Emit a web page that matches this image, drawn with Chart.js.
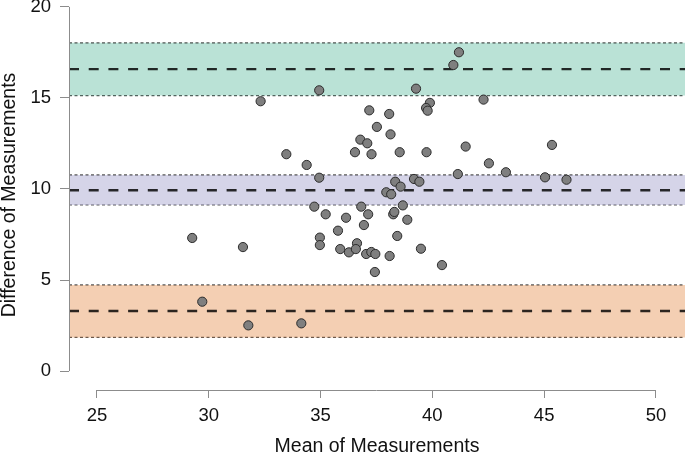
<!DOCTYPE html>
<html>
<head>
<meta charset="utf-8">
<script src="https://cdn.jsdelivr.net/npm/chart.js@4/dist/chart.umd.min.js"></script>
<style>
  html, body { margin: 0; padding: 0; background: #fff; }
  #wrap { width: 685px; height: 457px; }
</style>
</head>
<body>
<div id="wrap"><canvas id="chart"></canvas></div>
<script>
// mean of the two measurements (x) and their difference (y)
var meanVals = [34.94, 39.27, 32.32, 37.18, 38.07, 37.52, 38.13, 36.78, 37.09, 36.54,
                37.28, 38.54, 33.47, 34.38, 34.94, 38.34, 38.58, 37.94, 38.16, 39.18,
                39.42, 41.19, 40.94, 39.89, 39.72, 39.79, 42.29, 41.49, 45.35, 39.74,
                42.53, 41.14, 43.29, 45.04, 46.00, 29.26, 31.53, 29.71, 31.77, 34.14,
                34.72, 35.23, 36.14, 36.82, 37.13, 36.94, 35.78, 34.97, 34.97, 35.88,
                36.27, 36.63, 36.58, 37.04, 37.27, 37.45, 38.09, 37.43, 38.43, 39.49,
                40.43, 38.25, 38.30, 38.68, 38.88];
var diffVals = [15.42, 15.51, 14.82, 14.32, 14.12, 13.41, 13.00, 12.71, 12.51, 12.02,
                11.91, 12.02, 11.91, 11.32, 10.62, 10.40, 10.13, 9.82, 9.71, 10.55,
                10.40, 17.51, 16.81, 14.73, 14.45, 14.30, 14.91, 12.33, 12.42, 12.02,
                11.41, 10.82, 10.92, 10.64, 10.51, 7.31, 6.81, 3.81, 2.51, 2.62,
                9.03, 8.61, 8.42, 9.03, 8.61, 8.02, 7.71, 7.33, 6.92, 6.70,
                6.52, 7.02, 6.70, 6.43, 6.54, 6.43, 6.32, 5.44, 7.42, 6.72,
                5.82, 8.61, 8.74, 9.10, 8.31];

// upper limit of agreement, bias, lower limit of agreement (mean line + CI band each)
var bandNames = ['upper', 'bias', 'lower'];
var bandMid   = [16.58, 9.93, 3.30];
var bandHigh  = [18.03, 10.77, 4.73];
var bandLow   = [15.13, 9.12, 1.85];
var bandFill  = ['rgba(27,158,119,0.3)', 'rgba(117,112,179,0.3)', 'rgba(217,95,2,0.3)'];

var xTicks = [25, 30, 35, 40, 45, 50];
var yTicks = [0, 5, 10, 15, 20];
var xMin = 23.75, xMax = 51.3;
var yMin = -1.04, yMax = 20.38;

var datasets = [{
  type: 'scatter',
  data: meanVals.map(function(v, i) { return { x: v, y: diffVals[i] }; }),
  backgroundColor: '#7f7f7f',
  borderColor: '#2b2b2b',
  borderWidth: 1,
  pointRadius: 4.6,
  order: 0
}];

bandNames.forEach(function(name, i) {
  datasets.push({
    type: 'line', label: name + ' high',
    data: [{ x: xMin, y: bandHigh[i] }, { x: xMax, y: bandHigh[i] }],
    borderColor: 'rgba(0,0,0,0.65)', borderWidth: 1.2, borderDash: [3, 2.5],
    pointRadius: 0, fill: '+1', backgroundColor: bandFill[i], order: 2
  });
  datasets.push({
    type: 'line', label: name + ' low',
    data: [{ x: xMin, y: bandLow[i] }, { x: xMax, y: bandLow[i] }],
    borderColor: 'rgba(0,0,0,0.65)', borderWidth: 1.2, borderDash: [3, 2.5],
    pointRadius: 0, fill: false, order: 2
  });
  datasets.push({
    type: 'line', label: name,
    data: [{ x: xMin, y: bandMid[i] }, { x: xMax, y: bandMid[i] }],
    borderColor: 'rgba(0,0,0,0.82)', borderWidth: 2.3, borderDash: [10, 9.7],
    pointRadius: 0, fill: false, order: 1
  });
});

// R-style axis lines that only run from first to last tick
var axisLines = {
  id: 'axisLines',
  afterDraw: function(chart) {
    var ctx = chart.ctx, xs = chart.scales.x, ys = chart.scales.y;
    var area = chart.chartArea;
    ctx.save();
    ctx.strokeStyle = '#8c8c8c';
    ctx.lineWidth = 1;
    ctx.beginPath();
    ctx.moveTo(area.left + 0.5, ys.getPixelForValue(yTicks[0]));
    ctx.lineTo(area.left + 0.5, ys.getPixelForValue(yTicks[yTicks.length - 1]));
    ctx.moveTo(xs.getPixelForValue(xTicks[0]), area.bottom + 0.5);
    ctx.lineTo(xs.getPixelForValue(xTicks[xTicks.length - 1]), area.bottom + 0.5);
    ctx.stroke();
    ctx.restore();
  }
};

function noPad(axis) {
  axis.paddingTop = 0; axis.paddingBottom = 0;
  axis.paddingLeft = 0; axis.paddingRight = 0;
}

Chart.defaults.font.family = '"Liberation Sans", Arial, sans-serif';
Chart.defaults.font.size = 18.5;
Chart.defaults.color = '#111';

new Chart(document.getElementById('chart').getContext('2d'), {
  type: 'scatter',
  data: { datasets: datasets },
  options: {
    responsive: true,
    maintainAspectRatio: false,
    animation: false,
    devicePixelRatio: 1,
    layout: { padding: 0, autoPadding: false },
    plugins: { legend: { display: false }, tooltip: { enabled: false } },
    scales: {
      x: {
        type: 'linear', min: xMin, max: xMax,
        afterBuildTicks: function(axis) { axis.ticks = xTicks.map(function(v) { return { value: v }; }); },
        afterFit: function(axis) { axis.height = 67; noPad(axis); },
        grid: { drawOnChartArea: false, drawTicks: true, tickLength: 8, tickColor: '#8c8c8c', color: '#8c8c8c' },
        border: { display: false },
        ticks: { padding: 7, maxRotation: 0, autoSkip: false },
        title: { display: true, text: 'Mean of Measurements', font: { size: 19.5, lineHeight: 1 }, padding: { top: 0, bottom: 1 } }
      },
      y: {
        type: 'linear', min: yMin, max: yMax,
        afterBuildTicks: function(axis) { axis.ticks = yTicks.map(function(v) { return { value: v }; }); },
        afterFit: function(axis) { axis.width = 69; noPad(axis); },
        grid: { drawOnChartArea: false, drawTicks: true, tickLength: 9, tickColor: '#8c8c8c', color: '#8c8c8c' },
        border: { display: false },
        ticks: { padding: 9, autoSkip: false },
        title: { display: true, text: 'Difference of Measurements', font: { size: 19.5, lineHeight: 1 }, padding: { top: 0, bottom: 0 } }
      }
    }
  },
  plugins: [axisLines]
});
</script>
</body>
</html>
